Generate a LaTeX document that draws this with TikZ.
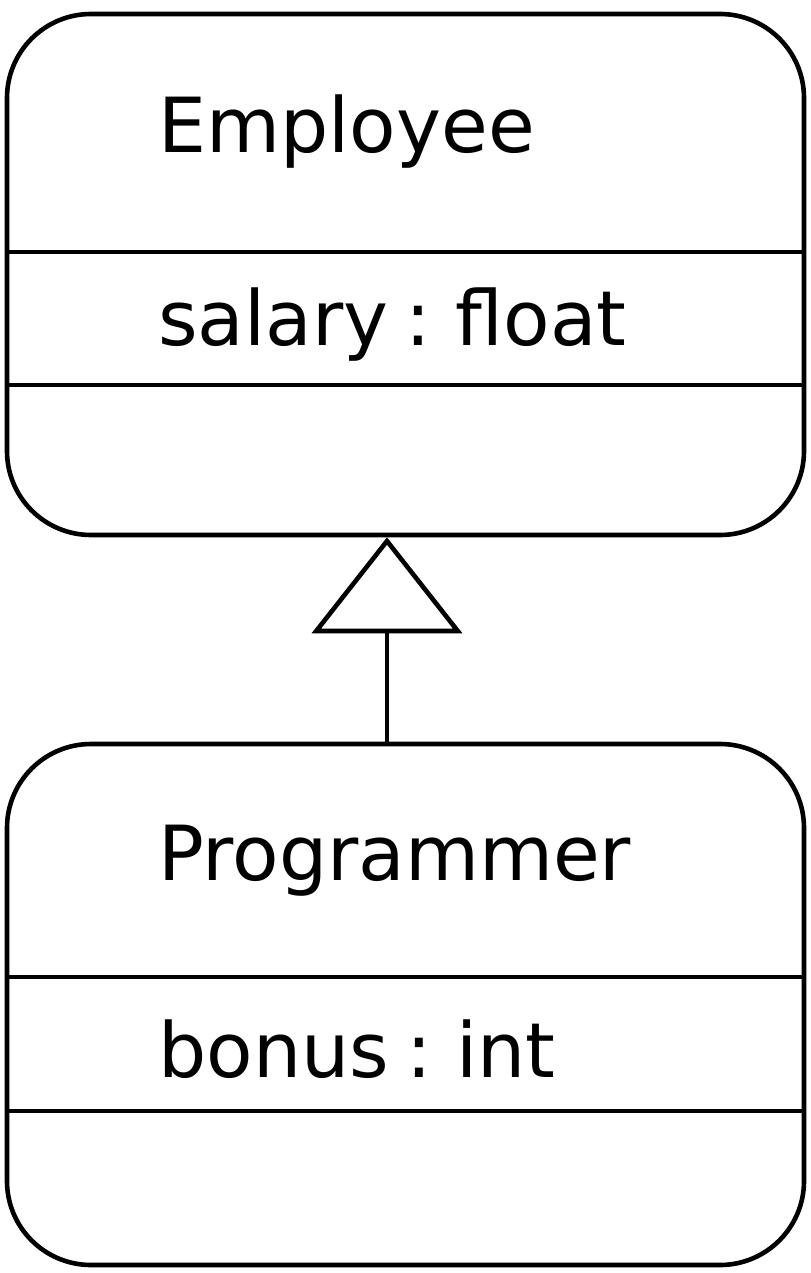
\documentclass[tikz,border=0pt]{standalone}
\usepackage{fontspec}
\setmainfont[WordSpace=0.7]{DejaVu Sans}
\usetikzlibrary{arrows.meta,positioning}

\tikzset{
  classbox/.style={draw, line width=2.3pt, rounded corners=42pt,
    minimum width=398.5pt, minimum height=260.5pt, inner sep=0pt},
  classtext/.style={anchor=base west, inner sep=0pt, text=black,
    font=\fontsize{38}{45}\selectfont},
  divider/.style={line width=2.3pt},
  inherits/.style={line width=2.3pt,
    -{Triangle[open, length=48pt, width=75pt, line join=miter]}}
}

\begin{document}
\begin{tikzpicture}[x=0.5pt,y=-0.5pt]
  \useasboundingbox (0,0) rectangle (810,1273);
  % superclass
  \node[classbox] (emp) at (405.5,274.5) {};
  \node[classtext] (empname) at (158,153) {Employee};
  \draw[divider] (emp.west |- 0,252) -- (emp.east |- 0,252);
  \node[classtext] (empattr) at (158,345) {salary : float};
  \draw[divider] (emp.west |- 0,385) -- (emp.east |- 0,385);
  % subclass
  \node[classbox] (prog) at (405.5,1004.5) {};
  \node[classtext] (progname) at (158,880) {Programmer};
  \draw[divider] (prog.west |- 0,977) -- (prog.east |- 0,977);
  \node[classtext] (progattr) at (158,1077) {bonus : int};
  \draw[divider] (prog.west |- 0,1111) -- (prog.east |- 0,1111);
  % generalisation
  \draw[inherits] ([xshift=-9.25pt]prog.north) -- ([xshift=-9.25pt]emp.south);
\end{tikzpicture}
\end{document}
